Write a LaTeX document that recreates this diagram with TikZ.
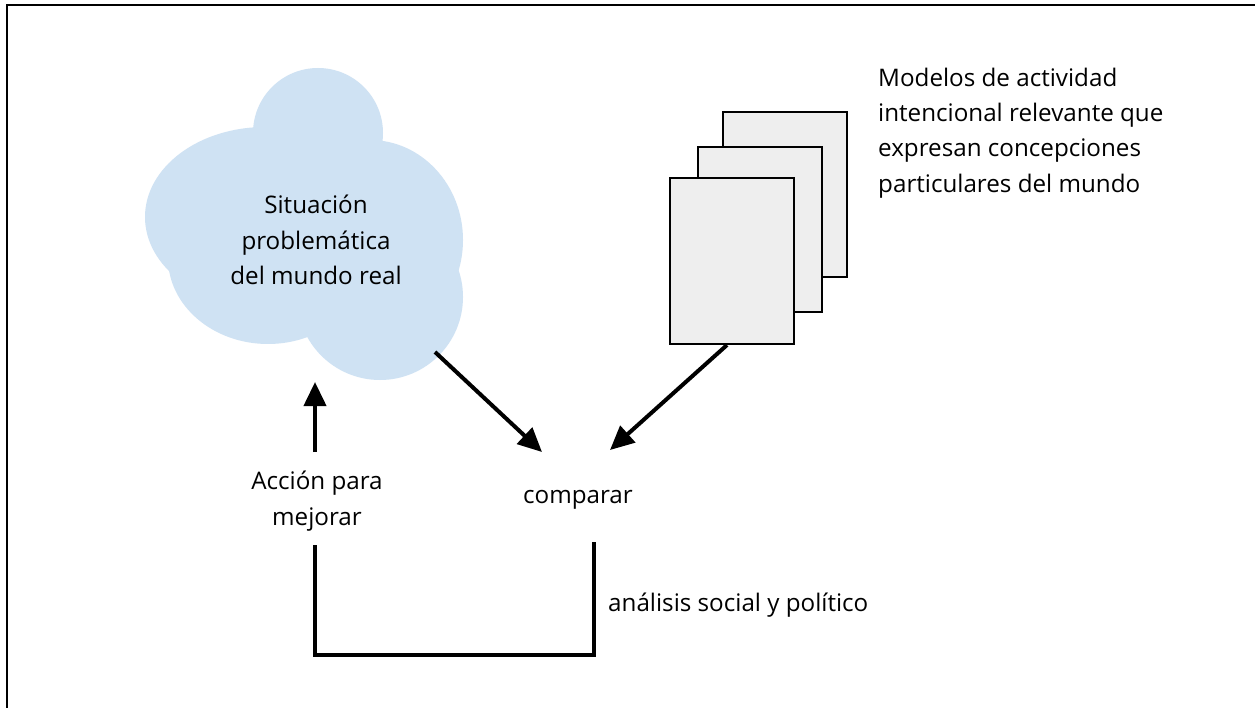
\documentclass[tikz,border=0pt]{standalone}
\usepackage{fontspec}
\setmainfont{Open Sans}
\usetikzlibrary{arrows.meta}
\definecolor{cloudblue}{HTML}{CFE2F3}
\definecolor{papergray}{HTML}{EEEEEE}
\begin{document}
\begin{tikzpicture}[x=1pt,y=-1pt,
  lbl/.style={font=\fontsize{24.2}{35.3}\selectfont, align=center, inner sep=0pt},
  sheet/.style={draw=black, line width=2.5pt, fill=papergray},
  flow/.style={line width=4pt, -{Triangle[length=24pt,width=22pt]}},
  bar/.style={line width=4pt}]
\useasboundingbox (0,0) rectangle (1255,708);
\fill[white] (0,0) rectangle (1255,708);
% frame
\draw[line width=2pt] (7,708) -- (7,5) -- (1255,5);

% cloud built from overlapping lobes
\begin{scope}[fill=cloudblue]
  \fill (318,133) circle (65);
  \fill (265,217) ellipse [x radius=120, y radius=90];
  \fill (370,240) ellipse [x radius=93, y radius=100];
  \fill (380,297) circle (83);
  \fill (268,258) ellipse [x radius=100, y radius=86];
\end{scope}
\node[lbl] (sit) at (316,240) {Situación\\problemática\\del mundo real};

% stack of model sheets
\node[sheet, minimum width=124pt, minimum height=165pt, inner sep=0pt] (p3) at (785,194.5) {};
\node[sheet, minimum width=124pt, minimum height=165pt, inner sep=0pt] (p2) at (760,229.5) {};
\node[sheet, minimum width=124pt, minimum height=166pt, inner sep=0pt] (p1) at (732,261) {};
\node[lbl, align=left, anchor=west] (mod) at (878,133)
  {Modelos de actividad\\intencional relevante que\\expresan concepciones\\particulares del mundo};

% labels
\node[lbl] (acc) at (317,501) {Acción para\\mejorar};
\node[lbl] (cmp) at (578,500) {comparar};
\node[lbl, anchor=west] (ana) at (608,605) {análisis social y político};

% connector end points
\coordinate (c1) at (435,352);
\coordinate (c1e) at (542,452);
\coordinate (p1s) at (727,345);
\coordinate (p1e) at (610,450);
\coordinate (a1) at (315,452);
\coordinate (a1e) at (315,382);
\coordinate (b1) at (594,542);
\coordinate (b2) at (594,655);
\coordinate (b3) at (315,655);
\coordinate (b4) at (315,545);

\draw[flow] (c1) -- (c1e);
\draw[flow] (p1s) -- (p1e);
\draw[flow] (a1) -- (a1e);
\draw[bar] (b1) -- (b2) -- (b3) -- (b4);
\end{tikzpicture}
\end{document}
